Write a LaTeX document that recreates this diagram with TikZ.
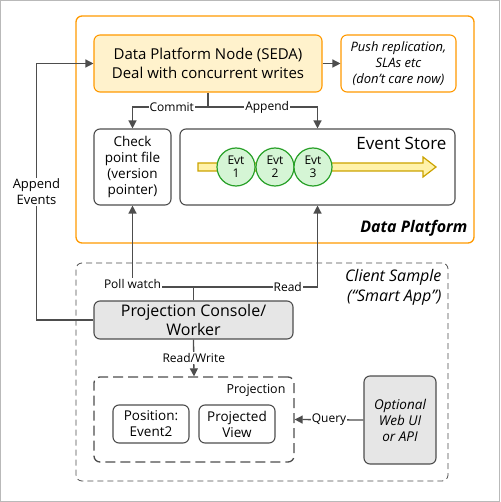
\documentclass[tikz,border=0pt]{standalone}
\usepackage{fontspec}
\setmainfont{Open Sans}
\usepackage{tikz}
\usetikzlibrary{arrows.meta, positioning}
\definecolor{platformorange}{RGB}{255,153,0}
\definecolor{nodeyellow}{RGB}{255,242,204}
\definecolor{linegray}{RGB}{77,77,77}
\definecolor{workergray}{RGB}{230,230,230}
\definecolor{evtgreen}{RGB}{40,160,40}
\definecolor{evtfill}{RGB}{213,245,213}
\definecolor{streamyellow}{RGB}{204,163,0}
\definecolor{streamfill}{RGB}{255,242,170}

\begin{document}
\begin{tikzpicture}[
    x=1pt, y=-1pt,
    zone/.style={draw=platformorange, line width=1.3pt, rounded corners=6pt, inner sep=0pt},
    clientzone/.style={draw=linegray, line width=0.8pt, dash pattern=on 6pt off 4pt, rounded corners=6pt, inner sep=0pt},
    projzone/.style={draw=linegray, line width=1.3pt, dash pattern=on 10pt off 5pt, rounded corners=6pt, inner sep=0pt},
    box/.style={draw=linegray, line width=1.1pt, fill=white, rounded corners=6pt, align=center, inner sep=0pt, font=\fontsize{13.5}{16}\selectfont},
    evt/.style={circle, draw=evtgreen, fill=evtfill, line width=1.2pt, minimum size=38pt, inner sep=0pt, align=center, font=\fontsize{12}{13}\selectfont},
    conn/.style={draw=linegray, line width=1.3pt, -{Triangle[length=8pt, width=8pt]}},
    lbl/.style={fill=white, inner sep=1pt, font=\fontsize{12}{15}\selectfont, align=center}
]
    \useasboundingbox (0,0) rectangle (500,502);
    \draw[gray!55, line width=1pt] (0.5,0.5) rectangle (499.5,501.5);

    % Zones
    \node[zone, minimum width=398pt, minimum height=227pt] (platform) at (275,129.5) {};
    \node[font=\fontsize{16}{19}\selectfont\bfseries\itshape, anchor=east] at (471,228) {Data Platform};

    \node[clientzone, minimum width=372pt, minimum height=218pt] (client) at (262,372) {};
    \node[font=\fontsize{16}{20}\selectfont\itshape, align=right, anchor=east] at (445,287) {Client Sample\\(``Smart App'')};

    \node[projzone, minimum width=200pt, minimum height=85pt] (proj) at (194,419.5) {};
    \node[font=\fontsize{12.5}{15}\selectfont, anchor=east] at (289,390) {Projection};

    % Platform nodes
    \node[box, draw=platformorange, fill=nodeyellow, minimum width=228pt, minimum height=57pt, font=\fontsize{15}{19}\selectfont] (seda) at (208,63.5) {Data Platform Node (SEDA)\\Deal with concurrent writes};
    \node[box, draw=platformorange, minimum width=115pt, minimum height=57pt, font=\fontsize{13}{16}\selectfont\itshape] (push) at (398.5,63.5) {Push replication,\\SLAs etc\\(don't care now)};
    \node[box, minimum width=77pt, minimum height=76pt] (chk) at (132.5,167) {Check\\point file\\(version\\pointer)};
    \node[box, minimum width=275pt, minimum height=76pt] (store) at (317.5,167) {};
    \node[font=\fontsize{17}{19}\selectfont, anchor=east] at (450,143) {Event Store};

    % Event stream
    \draw[streamyellow, fill=streamfill, line width=1.2pt] (198,163) -- (423,163) -- (423,157) -- (436,167) -- (423,177) -- (423,171) -- (198,171) -- cycle;
    \node[evt] (evt1) at (236,167) {Evt\\1};
    \node[evt] (evt2) at (275,167) {Evt\\2};
    \node[evt] (evt3) at (313,167) {Evt\\3};

    % Client nodes
    \node[box, fill=workergray, minimum width=199pt, minimum height=38pt, font=\fontsize{16}{19}\selectfont] (console) at (193.5,320) {Projection Console/\\Worker};
    \node[box, minimum width=76pt, minimum height=38pt] (pos) at (151,424) {Position:\\Event2};
    \node[box, minimum width=76pt, minimum height=38pt] (view) at (237,424) {Projected\\View};
    \node[box, fill=workergray, minimum width=72pt, minimum height=88pt, font=\fontsize{13.5}{16}\selectfont\itshape] (webui) at (400,420) {Optional\\Web UI\\or API};

    % Connectors
    \coordinate (split) at (208,107);
    \coordinate (poll) at (193.5,287);
    \draw[conn] (seda.east) -- (push.west);
    \draw[draw=linegray, line width=1.3pt] (seda.south) -- (split);
    \draw[conn] (split) -| node[lbl, pos=0.24] {Commit} (chk.north);
    \draw[conn] (split) -| node[lbl, pos=0.27] {Append} (store.north);
    \draw[draw=linegray, line width=1.3pt] (console.north) -- (poll);
    \draw[conn] (poll) -| node[lbl, pos=0.5, yshift=3pt] {Poll watch} (chk.south);
    \draw[conn] (poll) -| node[lbl, pos=0.38] {Read} (store.south);
    \draw[conn] (console.west) -- ++(-57,0) |- node[lbl, pos=0.25, font=\fontsize{13}{16}\selectfont] {Append\\Events} (seda.west);
    \draw[conn] (console.south) -- node[lbl] {Read/Write} (proj.north);
    \draw[conn] (webui.west) -- node[lbl] {Query} (proj.east);
\end{tikzpicture}
\end{document}
